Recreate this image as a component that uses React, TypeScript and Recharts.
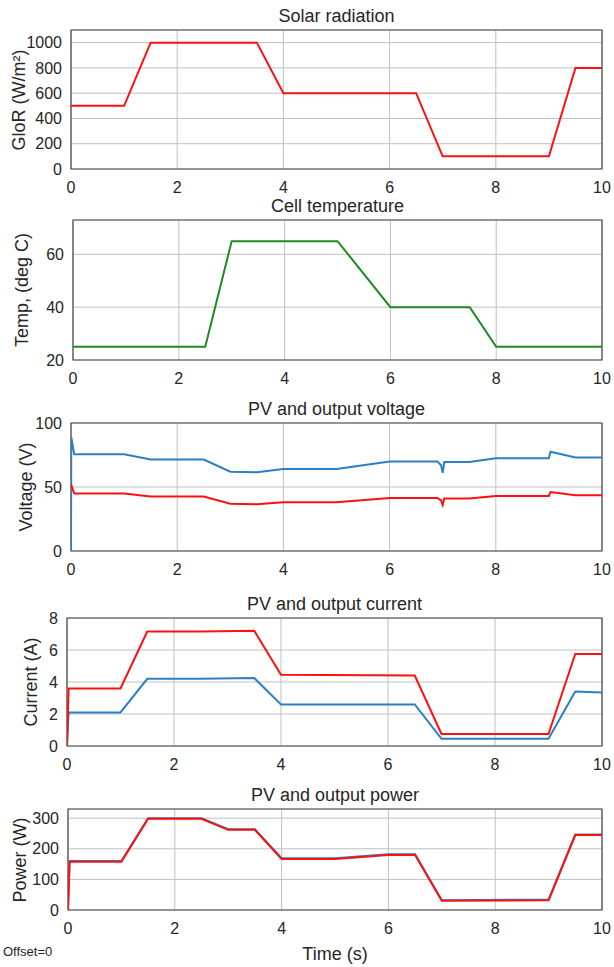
import React from "react";
import { LineChart, Line, XAxis, YAxis, CartesianGrid, ReferenceArea } from "recharts";

// time axis ticks shared by every panel
const timeTicks = [0, 2, 4, 6, 8, 10];

// Solar radiation (W/m^2)
const solarT = [0, 1, 1.5, 3.5, 4, 6.5, 7, 9, 9.5, 10];
const solarG = [500, 500, 1000, 1000, 600, 600, 100, 100, 800, 800];
const solarTicks = [0, 200, 400, 600, 800, 1000];

// Cell temperature (deg C)
const tempT = [0, 2.5, 3, 5, 6, 7.5, 8, 10];
const tempC = [25, 25, 65, 65, 40, 40, 25, 25];
const tempTicks = [20, 40, 60];

// PV voltage (blue) and output voltage (red)
const pvVoltT = [0, 0.005, 0.06, 1, 1.5, 2.5, 3, 3.5, 4, 5, 6, 6.6, 6.9, 6.97, 7.0, 7.03, 7.5, 8, 9, 9.03, 9.5, 10];
const pvVolt = [0, 89, 75.5, 75.5, 71.5, 71.5, 62, 61.5, 64, 64, 70, 70, 70, 67, 61, 69.5, 69.5, 72.5, 72.5, 77.5, 73, 73];
const outVoltT = [0, 0.06, 1, 1.5, 2.5, 3, 3.5, 4, 5, 6, 6.6, 6.9, 6.97, 7.0, 7.03, 7.5, 8, 9, 9.03, 9.5, 10];
const outVolt = [52, 45, 45, 42.5, 42.5, 37, 36.5, 38, 38, 41.5, 41.5, 41.5, 39.5, 36, 41, 41, 43, 43, 46, 43.5, 43.5];
const voltTicks = [0, 50, 100];

// Output current (blue) and PV current (red)
const outCurT = [0, 0.03, 1, 1.5, 2.5, 3.5, 4, 6.5, 7, 9, 9.5, 10];
const outCur = [0.1, 2.1, 2.1, 4.2, 4.2, 4.25, 2.6, 2.6, 0.45, 0.45, 3.4, 3.35];
const pvCurT = [0, 0.03, 1, 1.5, 2.5, 3.5, 4, 6.5, 7, 9, 9.5, 10];
const pvCur = [0, 3.6, 3.6, 7.15, 7.15, 7.2, 4.45, 4.4, 0.75, 0.75, 5.75, 5.75];
const curTicks = [0, 2, 4, 6, 8];

// PV power (blue) and output power (red)
const powT = [0, 0.03, 1, 1.5, 2.5, 3, 3.5, 4, 5, 6, 6.5, 7, 9, 9.5, 10];
const pvPow = [0, 160, 160, 300, 300, 264, 264, 169, 169, 182, 182, 32, 34, 247, 247];
const outPow = [0, 158, 158, 298, 298, 262, 262, 167, 167, 180, 180, 30, 32, 245, 245];
const powTicks = [0, 100, 200, 300];

const zip = (t: number[], v: number[]) => t.map((x, i) => ({ t: x, v: v[i] }));

const RED = "#ff1010";
const BLUE = "#2b7fc4";
const GREEN = "#1f8a1f";
const FONT = "'Liberation Sans', Arial, sans-serif";
const tickStyle = { fontFamily: FONT, fontSize: 16, fill: "#262626" };

type Series = { data: { t: number; v: number }[]; color: string };

function Panel(props: {
  title: string;
  ylabel: string;
  plotTop: number;
  plotBottom: number;
  plotLeft: number;
  labelX: number;
  domain: [number, number];
  ticks: number[];
  series: Series[];
}) {
  const { plotTop, plotBottom, plotLeft, domain, ticks } = props;
  const chartTop = plotTop - 12;
  const height = plotBottom - chartTop + 30;
  const mid = (plotTop + plotBottom) / 2;
  return (
    <>
      <div
        style={{
          position: "absolute",
          top: plotTop - 24,
          left: plotLeft,
          width: 602 - plotLeft,
          textAlign: "center",
          fontFamily: FONT,
          fontSize: 18,
          color: "#262626",
          lineHeight: "20px",
        }}
      >
        {props.title}
      </div>
      <div
        style={{
          position: "absolute",
          left: props.labelX - 100,
          top: mid - 10,
          width: 200,
          textAlign: "center",
          transform: "rotate(-90deg)",
          fontFamily: FONT,
          fontSize: 18,
          color: "#262626",
          lineHeight: "20px",
          whiteSpace: "nowrap",
        }}
      >
        {props.ylabel}
      </div>
      <div style={{ position: "absolute", top: chartTop, left: 0 }}>
        <LineChart width={614} height={height} margin={{ top: 12, right: 12, bottom: 0, left: 0 }}>
          <CartesianGrid stroke="#c0c0c0" strokeWidth={1} />
          <XAxis
            dataKey="t"
            type="number"
            domain={[0, 10]}
            ticks={timeTicks}
            tickLine={false}
            axisLine={false}
            tick={tickStyle}
            tickMargin={7}
            height={30}
            allowDataOverflow
          />
          <YAxis
            dataKey="v"
            type="number"
            domain={domain}
            ticks={ticks}
            tickLine={false}
            axisLine={false}
            tick={tickStyle}
            tickMargin={3}
            width={plotLeft}
            allowDataOverflow
            interval={0}
          />
          <ReferenceArea
            x1={0}
            x2={10}
            y1={domain[0]}
            y2={domain[1]}
            fill="none"
            stroke="#4a4a4a"
            strokeWidth={1.2}
            ifOverflow="visible"
          />
          {props.series.map((s, i) => (
            <Line
              key={i}
              data={s.data}
              dataKey="v"
              type="linear"
              stroke={s.color}
              strokeWidth={2}
              dot={false}
              isAnimationActive={false}
            />
          ))}
        </LineChart>
      </div>
    </>
  );
}

export default function App() {
  return (
    <div style={{ position: "absolute", left: 0, top: 0, width: 614, height: 967, background: "#fff", overflow: "hidden" }}>
      <Panel
        title="Solar radiation"
        ylabel="GloR (W/m²)"
        plotTop={30}
        plotBottom={169}
        plotLeft={71}
        labelX={19}
        domain={[0, 1100]}
        ticks={solarTicks}
        series={[{ data: zip(solarT, solarG), color: RED }]}
      />
      <Panel
        title="Cell temperature"
        ylabel="Temp, (deg C)"
        plotTop={220}
        plotBottom={360}
        plotLeft={73}
        labelX={22}
        domain={[20, 73]}
        ticks={tempTicks}
        series={[{ data: zip(tempT, tempC), color: GREEN }]}
      />
      <Panel
        title="PV and output voltage"
        ylabel="Voltage (V)"
        plotTop={423}
        plotBottom={551}
        plotLeft={71}
        labelX={26}
        domain={[0, 100]}
        ticks={voltTicks}
        series={[
          { data: zip(pvVoltT, pvVolt), color: BLUE },
          { data: zip(outVoltT, outVolt), color: RED },
        ]}
      />
      <Panel
        title="PV and output current"
        ylabel="Current (A)"
        plotTop={618}
        plotBottom={746}
        plotLeft={67}
        labelX={31}
        domain={[0, 8]}
        ticks={curTicks}
        series={[
          { data: zip(outCurT, outCur), color: BLUE },
          { data: zip(pvCurT, pvCur), color: RED },
        ]}
      />
      <Panel
        title="PV and output power"
        ylabel="Power (W)"
        plotTop={809}
        plotBottom={910}
        plotLeft={68}
        labelX={20}
        domain={[0, 330]}
        ticks={powTicks}
        series={[
          { data: zip(powT, pvPow), color: BLUE },
          { data: zip(powT, outPow), color: RED },
        ]}
      />
      <div style={{ position: "absolute", left: 3, top: 944, fontFamily: FONT, fontSize: 13, color: "#262626" }}>Offset=0</div>
      <div
        style={{
          position: "absolute",
          left: 68,
          width: 534,
          top: 944,
          textAlign: "center",
          fontFamily: FONT,
          fontSize: 18,
          color: "#262626",
        }}
      >
        Time (s)
      </div>
    </div>
  );
}
